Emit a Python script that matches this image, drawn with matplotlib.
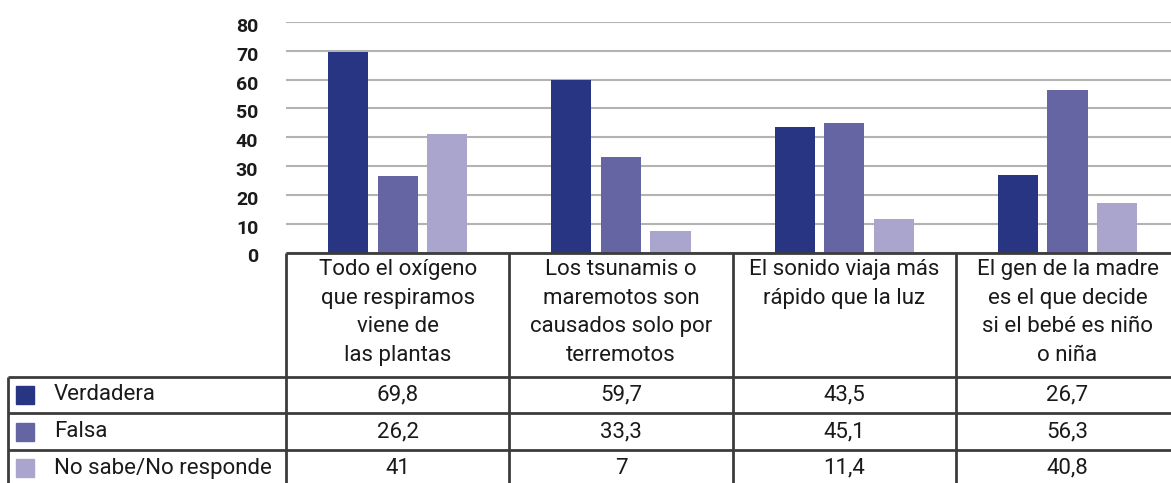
import matplotlib
matplotlib.use("Agg")
import matplotlib.pyplot as plt
from matplotlib.transforms import blended_transform_factory, ScaledTranslation
from matplotlib.patches import Rectangle
import numpy as np

# ---------------- data ----------------
categories = [
    "Todo el oxígeno\nque respiramos\nviene de\nlas plantas",
    "Los tsunamis o\nmaremotos son\ncausados solo por\nterremotos",
    "El sonido viaja más\nrápido que la luz",
    "El gen de la madre\nes el que decide\nsi el bebé es niño\no niña",
]
series_names = ["Verdadera", "Falsa", "No sabe/No responde"]
verdadera = [69.6, 59.7, 43.5, 26.9]
falsa = [26.4, 33.3, 45.1, 56.3]
no_sabe = [41, 7.5, 11.6, 17.2]          # bar heights as drawn in the picture
table_verdadera = ["69,8", "59,7", "43,5", "26,7"]
table_falsa = ["26,2", "33,3", "45,1", "56,3"]
table_no_sabe = ["41", "7", "11,4", "40,8"]
y_ticks = [0, 10, 20, 30, 40, 50, 60, 70, 80]

colors = ["#283583", "#6665a3", "#a9a5cc"]

plt.rcParams['font.family'] = ['Roboto', 'DejaVu Sans']

W, H = 1171, 483
fig = plt.figure(figsize=(W / 100, H / 100), dpi=100)

# main bar axes (pixel geometry)
left_px, right_px = 286, 1171
top_px, base_px = 22, 252.5
unit = 223.3
ax = fig.add_axes([left_px / W, (H - base_px) / H, (right_px - left_px) / W, (base_px - top_px) / H])
x = np.arange(len(categories))
series = [verdadera, falsa, no_sabe]
width = 0.18
step = 0.222
for k, (vals, col) in enumerate(zip(series, colors)):
    ax.bar(x + (k - 1) * step, vals, width=width, color=col, zorder=3)

ax.set_xlim(-0.5, -0.5 + (right_px - left_px) / unit)
ax.set_ylim(0, 80)
ax.set_yticks(y_ticks)
ax.set_yticklabels([str(t) for t in y_ticks], fontsize=14, fontweight='bold', color='#1a1a1a')
ax.tick_params(axis='y', length=0, pad=20)
ax.set_xticks([])
for s in ax.spines.values():
    s.set_visible(False)
ax.yaxis.grid(True, color='#b3b3b3', lw=1.5, zorder=0)
ax.set_axisbelow(True)
off = ScaledTranslation(0, -3 / 100, fig.dpi_scale_trans)
for lbl in ax.get_yticklabels():
    lbl.set_transform(lbl.get_transform() + off)

# table overlay axes in pixel coords
tax = fig.add_axes([0, 0, 1, 1], zorder=5)
tax.set_xlim(0, W)
tax.set_ylim(H, 0)
tax.axis('off')
tr = blended_transform_factory(ax.transData, tax.transData)

line_kw = dict(color='#3c3c3c', lw=2.0, solid_capstyle='butt')
row_lines = [376.7, 413.3, 450.0]
header_top = 253
bottom = H + 5
col_edges = [i - 0.5 for i in range(len(categories) + 1)]

tax.plot([col_edges[0], col_edges[-1]], [header_top, header_top], transform=tr, **line_kw)
for e in col_edges:
    tax.plot([e, e], [header_top, bottom], transform=tr, **line_kw)
for yl in row_lines:
    tax.plot([8, W], [yl, yl], **line_kw)
tax.plot([8, 8], [row_lines[0], bottom], **line_kw)

FS = 16
for i, cat in enumerate(categories):
    tax.text(i, 259, cat, transform=tr, ha='center', va='top', fontsize=FS,
             color='#1a1a1a', linespacing=1.47)

rows = [table_verdadera, table_falsa, table_no_sabe]
row_centers = [(row_lines[0] + row_lines[1]) / 2, (row_lines[1] + row_lines[2]) / 2,
               (row_lines[2] + row_lines[2] + 36.6) / 2]
for r, (vals, yc) in enumerate(zip(rows, row_centers)):
    for i, v in enumerate(vals):
        tax.text(i, yc, v, transform=tr, ha='center', va='center', fontsize=FS, color='#1a1a1a')
    tax.add_patch(Rectangle((16, yc - 9), 18, 18, color=colors[r]))
    tax.text(54, yc, series_names[r], ha='left', va='center', fontsize=FS, color='#1a1a1a')

fig.savefig("out.png", dpi=100)
